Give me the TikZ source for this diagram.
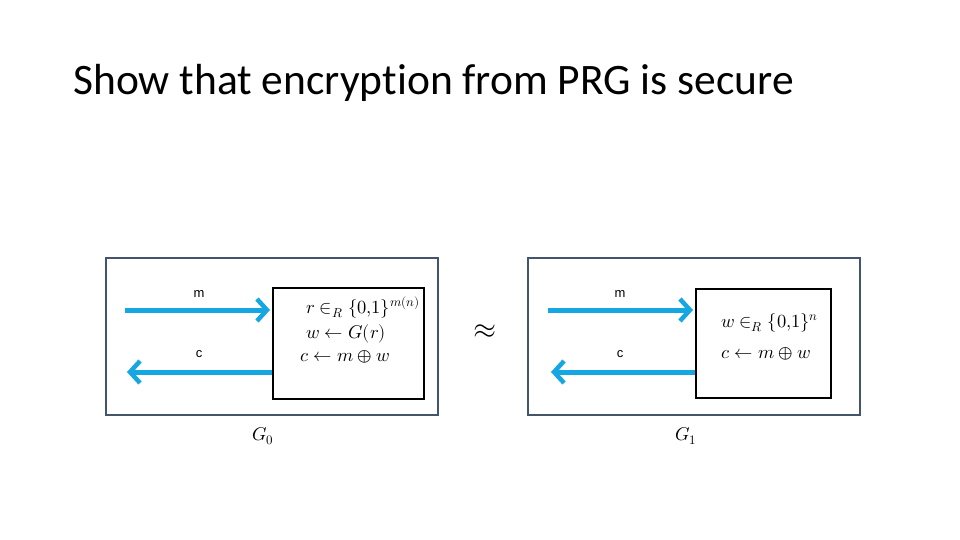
\documentclass[tikz,border=0pt]{standalone}
\usepackage{fontspec}
\usepackage{unicode-math}
\setmainfont{Carlito}[Ligatures=NoCommon]
\setmathfont{Latin Modern Math}
\newfontfamily\labfont{Liberation Sans}
\usetikzlibrary{arrows.meta}
\definecolor{framec}{HTML}{44546A}
\definecolor{arrc}{HTML}{16A6E2}
\tikzset{
  outerbox/.style={draw=framec, line width=2pt},
  innerbox/.style={draw=black, line width=2pt},
  flow/.style={draw=arrc, line width=5pt, -{Straight Barb[length=10pt,width=22pt,line width=4.5pt]}},
  lab/.style={font=\labfont\fontsize{13}{15}\selectfont, inner sep=0pt},
  mth/.style={font=\fontsize{18.5}{20}\selectfont, inner sep=0pt},
}
\begin{document}
\begin{tikzpicture}[x=1pt,y=-1pt]
\useasboundingbox[fill=white] (0,0) rectangle (960,540);
\node[anchor=base west, inner sep=0pt, font=\fontsize{43.5}{46}\selectfont] (title) at (73,95) {Show that encryption from PRG is secure};
% left game
\draw[outerbox] (106,258) rectangle (438,415);
\node[innerbox, minimum width=151pt, minimum height=111pt, anchor=north west, inner sep=0pt] (B0) at (272,287) {};
\coordinate (m0s) at (125,310);
\coordinate (m0e) at (B0.west |- m0s);
\coordinate (c0s) at (B0.west |- 0,372);
\coordinate (c0e) at (127,372);
\draw[flow] (m0s) -- ([xshift=-2pt]m0e);
\draw[flow] (c0s) -- (c0e);
\node[lab] (m0) at (199,294) {m};
\node[lab] (c0) at (199,354) {c};
\node[mth, anchor=base west] (r0a) at (306,313) {$r \in_R \{0{,}1\}^{m(n)}$};
\node[mth, anchor=base west] (r0b) at (306,338) {$w \leftarrow G(r)$};
\node[mth, anchor=base west] (r0c) at (300,361) {$c \leftarrow m \oplus w$};
\node[mth] (G0) at (263,436) {$G_0$};
% approx
\node[font=\fontsize{30}{32}\selectfont, inner sep=0pt] (apx) at (485,332) {$\approx$};
% right game
\draw[outerbox] (528,258) rectangle (860,415);
\node[innerbox, minimum width=135pt, minimum height=109pt, anchor=north west, inner sep=0pt] (B1) at (695,288) {};
\coordinate (m1s) at (548,310);
\coordinate (m1e) at (B1.west |- m1s);
\coordinate (c1s) at (B1.west |- 0,372);
\coordinate (c1e) at (551,372);
\draw[flow] (m1s) -- ([xshift=-2pt]m1e);
\draw[flow] (c1s) -- (c1e);
\node[lab] (m1) at (620,294) {m};
\node[lab] (c1) at (620,354) {c};
\node[mth, anchor=base west] (r1a) at (721,327) {$w \in_R \{0{,}1\}^{n}$};
\node[mth, anchor=base west] (r1b) at (721,358) {$c \leftarrow m \oplus w$};
\node[mth] (G1) at (686,436) {$G_1$};
\end{tikzpicture}
\end{document}
